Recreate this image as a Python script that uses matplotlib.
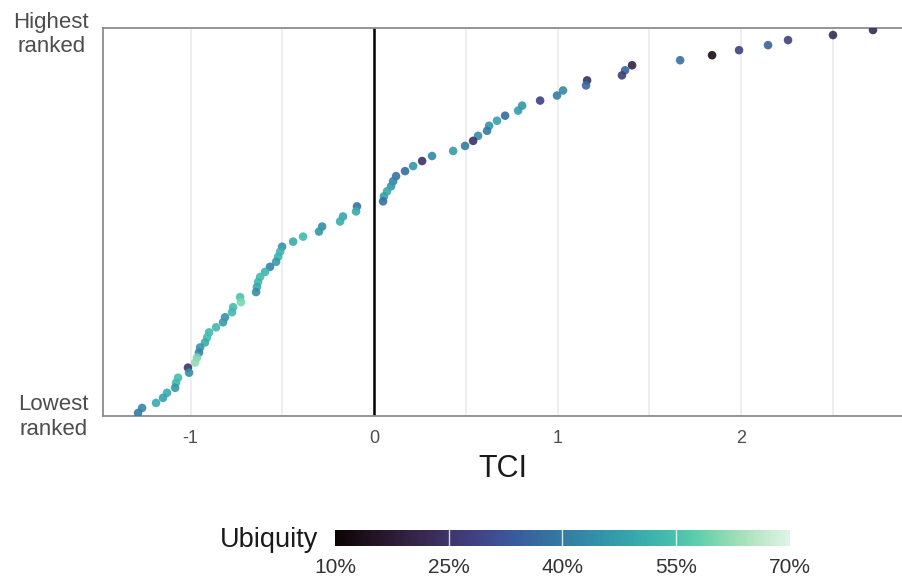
import numpy as np
import matplotlib
matplotlib.use("Agg")
import matplotlib.pyplot as plt
import seaborn as sns
from matplotlib.colors import Normalize
from matplotlib.cm import ScalarMappable

plt.rcParams['font.family'] = ['Liberation Sans', 'DejaVu Sans']
plt.rcParams['axes.unicode_minus'] = False

# TCI values, highest ranked first
tci = [2.719, 2.501, 2.256, 2.147, 1.989, 1.842, 1.668, 1.406, 1.368, 1.351,
       1.161, 1.155, 1.030, 0.997, 0.905, 0.807, 0.785, 0.714, 0.670, 0.627,
       0.616, 0.567, 0.540, 0.496, 0.431, 0.316, 0.262, 0.213, 0.169, 0.120,
       0.104, 0.093, 0.071, 0.054, 0.049, -0.093, -0.098, -0.169, -0.185, -0.283,
       -0.300, -0.387, -0.441, -0.501, -0.512, -0.523, -0.534, -0.567, -0.594, -0.621,
       -0.632, -0.638, -0.643, -0.730, -0.725, -0.768, -0.774, -0.812, -0.823, -0.861,
       -0.899, -0.910, -0.921, -0.948, -0.954, -0.965, -0.975, -1.014, -1.008, -1.068,
       -1.079, -1.084, -1.128, -1.150, -1.188, -1.264, -1.286]

# ubiquity in percent, same order
ubiquity = [22, 22, 28, 35, 28, 13, 38, 20, 36, 27,
            24, 37, 43, 40, 28, 46, 47, 37, 48, 45,
            40, 44, 24, 40, 47, 43, 24, 46, 37, 39,
            42, 46, 50, 48, 38, 38, 50, 49, 51, 44,
            46, 53, 50, 45, 52, 52, 47, 42, 52, 54,
            53, 50, 44, 55, 60, 54, 53, 45, 47, 53,
            53, 54, 50, 46, 42, 60, 62, 25, 44, 54,
            53, 46, 50, 48, 50, 43, 40]

n = len(tci)
rank = np.arange(n, 0, -1)

cmap = sns.color_palette("mako", as_cmap=True)
norm = Normalize(vmin=10, vmax=70)

fig = plt.figure(figsize=(9.02, 5.82), dpi=100)
ax = fig.add_axes([0.1142, 0.2852, 0.8858, 0.6667])

ax.scatter(tci, rank, c=ubiquity, cmap=cmap, norm=norm, s=38, alpha=0.9,
           linewidths=0, zorder=3)
ax.axvline(0, color='black', lw=1.8, zorder=2)

ax.set_xlim(-1.477, 2.877)
ax.set_ylim(0.4, n + 0.4)
ax.set_xticks([-1, 0, 1, 2])
ax.set_xticks([-0.5, 0.5, 1.5, 2.5], minor=True)
ax.grid(axis='x', which='both', color='#EBEBEB', lw=1.2, zorder=0)
ax.set_yticks([1, n])
ax.set_yticklabels(['Lowest\nranked', 'Highest\nranked'], multialignment='center')
ax.tick_params(axis='both', which='both', length=0)
ax.tick_params(axis='x', labelsize=13, colors='#4D4D4D', pad=10)
ax.tick_params(axis='y', labelsize=16, colors='#4D4D4D', pad=10)
ax.set_xlabel('TCI', fontsize=22, color='#1A1A1A', labelpad=5)

for side in ['left', 'top', 'bottom']:
    ax.spines[side].set_color('#8C8C8C')
    ax.spines[side].set_linewidth(1.3)
ax.spines['right'].set_visible(False)

# colour bar for ubiquity
cax = fig.add_axes([0.3714, 0.0619, 0.5044, 0.0275])
cb = fig.colorbar(ScalarMappable(norm=norm, cmap=cmap), cax=cax, orientation='horizontal')
cb.outline.set_visible(False)
cb.set_ticks([10, 25, 40, 55, 70])
cb.set_ticklabels(['10%', '25%', '40%', '55%', '70%'])
cax.tick_params(length=0, labelsize=15, colors='#333333', pad=9)
for v in [25, 40, 55]:
    cax.axvline(v, color='white', lw=1, alpha=0.8)
fig.text(0.3525, 0.072, 'Ubiquity', ha='right', va='center', fontsize=19.5, color='#1A1A1A')

fig.savefig('out.png', dpi=100)
